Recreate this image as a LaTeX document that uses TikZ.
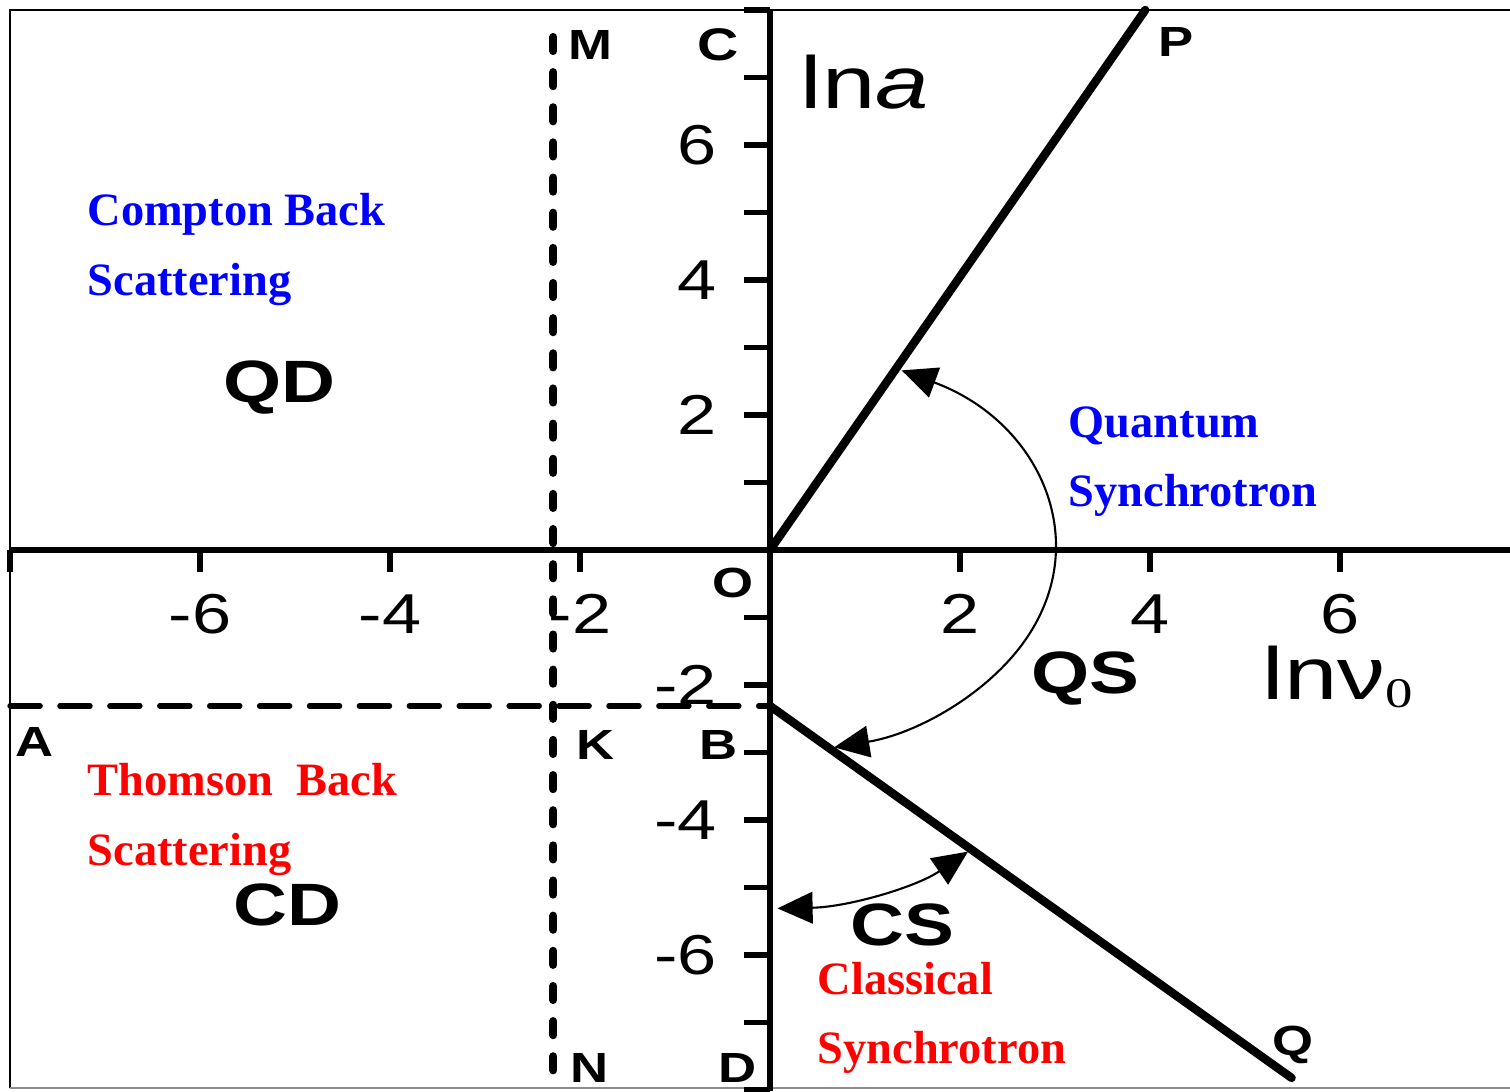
\documentclass[tikz,border=0pt]{standalone}
\usepackage{fontspec}
\setmainfont{Liberation Serif}
\setsansfont{Liberation Sans}
\usetikzlibrary{arrows.meta}
\definecolor{quantblue}{HTML}{0000FF}
\definecolor{classred}{HTML}{FF0000}
\tikzset{
  frameline/.style={line width=0.7pt},
  axisline/.style={line width=1.6pt},
  tickmark/.style={line width=1.5pt},
  branch/.style={line width=2.4pt, line cap=round},
  limith/.style={line width=1.5pt, line cap=round, dash pattern=on 8.6pt off 5.6pt},
  limitv/.style={line width=2.3pt, line cap=round, dash pattern=on 4pt off 6pt},
  sweep/.style={line width=0.6pt,
    {Triangle[length=10pt,width=9pt]}-{Triangle[length=10pt,width=9pt]}},
  numlabel/.style={inner sep=0pt, xscale=1.25, font=\sffamily\fontsize{16}{16}\selectfont},
  ptlabel/.style={inner sep=0pt, xscale=1.25, font=\sffamily\bfseries\fontsize{12}{12}\selectfont},
  zonelabel/.style={inner sep=0pt, xscale=1.25, font=\sffamily\bfseries\fontsize{17}{17}\selectfont},
  axislabel/.style={inner sep=0pt, xscale=1.3, font=\sffamily\fontsize{21}{21}\selectfont},
  regime/.style={inner sep=0pt, anchor=base west, font=\bfseries\fontsize{13.2}{13.2}\selectfont}
}
\begin{document}
\begin{tikzpicture}[x=0.95cm, y=0.675cm]
  \useasboundingbox (-8.105,-8.015) rectangle (7.789,8.148);

  % frame
  \draw[frameline] (-8,-7.97) -- (-8,8) -- (7.789,8);
  \draw[frameline, black!45] (-8,-7.97) -- (7.789,-7.97);

  \coordinate (O) at (0,0);
  \coordinate (xstart) at (-8,0);
  \coordinate (xend) at (7.789,0);
  \coordinate (ytop) at (0,8);
  \coordinate (ybot) at (0,-8.015);
  \coordinate (ptP) at (3.95,8);
  \coordinate (ptB) at (0,-2.31);
  \coordinate (ptQ) at (5.49,-7.82);
  \coordinate (ptA) at (-8,-2.31);
  \coordinate (ptM) at (-2.28,7.6);
  \coordinate (ptN) at (-2.28,-8.015);

  % axes and ticks
  \draw[axisline] (xstart) -- (xend);
  \draw[axisline, line width=1.9pt] (ybot) -- (ytop);
  \foreach \v in {-8,-6,-4,-2,2,4,6}
    \draw[tickmark] (\v,0) -- (\v,-0.33);
  \foreach \v in {-8,...,-1,1,2,...,8}
    \draw[tickmark] (0,\v) -- (-0.27,\v);
  \foreach \v in {-6,-4,-2,2,4,6} {
    \node[numlabel] (xl\v) at (\v,-0.95) {\v};
    \node[numlabel, anchor=east] (yl\v) at (-0.55,\v) {\v};
  }

  % dashed limits
  \draw[limith] (ptA) -- (ptB);
  \draw[limitv] (ptM) -- (ptN);

  % boundaries
  \draw[branch] (O) -- (ptP);
  \draw[branch] (ptB) -- (ptQ);

  % angular sweeps
  \draw[sweep] (O) ++(62.5:3) arc[start angle=62.5, end angle=-77, radius=3];
  \draw[sweep] (ptB) ++(-88.5:3) arc[start angle=-88.5, end angle=-46, radius=3];

  % axis names
  \node[axislabel] (lna) at (1.0,6.93) {ln\textit{a}};
  \node[axislabel, anchor=base west] (lnnu) at (-8.105+1262/95,-2.22)
    {lnν\raisebox{-2.3pt}{\rmfamily\mdseries\fontsize{12}{12}\selectfont 0}};

  % point labels
  \node[ptlabel, font=\sffamily\bfseries\fontsize{13}{13}\selectfont] (lblC) at (-0.547,7.48) {C};
  \node[ptlabel] (lblM) at (-1.895,7.48) {M};
  \node[ptlabel] (lblP) at (4.27,7.53) {P};
  \node[ptlabel] (lblO) at (-0.39,-0.49) {O};
  \node[ptlabel] (lblA) at (-7.74,-2.84) {A};
  \node[ptlabel] (lblK) at (-1.84,-2.89) {K};
  \node[ptlabel] (lblB) at (-0.547,-2.89) {B};
  \node[ptlabel] (lblN) at (-1.895,-7.67) {N};
  \node[ptlabel] (lblD) at (-0.347,-7.67) {D};
  \node[ptlabel] (lblQ) at (5.5,-7.33) {Q};

  % regions
  \node[zonelabel] (qd) at (-5.16,2.4) {QD};
  \node[zonelabel] (cd) at (-5.08,-5.26) {CD};
  \node[zonelabel] (qs) at (3.32,-1.9) {QS};
  \node[zonelabel] (cs) at (1.39,-5.56) {CS};

  % regimes
  \node[regime, quantblue] (cbs1) at (-7.19,4.80) {Compton Back};
  \node[regime, quantblue] (cbs2) at (-7.19,3.763) {Scattering};
  \node[regime, quantblue] (qsy1) at (3.137,1.674) {Quantum};
  \node[regime, quantblue] (qsy2) at (3.137,0.652) {Synchrotron};
  \node[regime, classred] (tbs1) at (-7.19,-3.63) {Thomson\ \ Back};
  \node[regime, classred] (tbs2) at (-7.19,-4.667) {Scattering};
  \node[regime, classred] (csy1) at (0.495,-6.59) {Classical};
  \node[regime, classred] (csy2) at (0.495,-7.6) {Synchrotron};
\end{tikzpicture}
\end{document}
